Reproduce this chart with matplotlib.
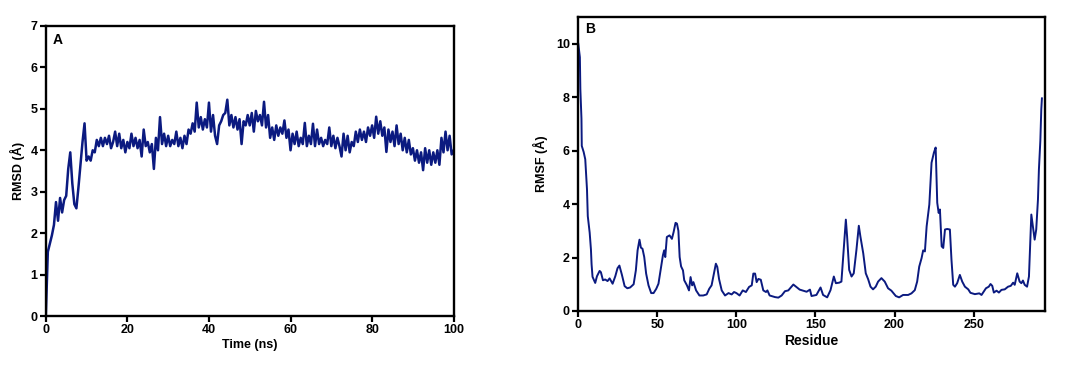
import numpy as np
import matplotlib
matplotlib.use("Agg")
import matplotlib.pyplot as plt

plt.rcParams['font.family'] = ['Liberation Sans', 'DejaVu Sans']
plt.rcParams['font.weight'] = 'bold'

# RMSD trace, read every 0.5 ns off the picture (0 .. 100 ns)
time_ns = np.arange(0, 100.5, 0.5)
rmsd = [
    0.0, 1.55, 1.75, 1.95, 2.2, 2.75, 2.3, 2.85, 2.5, 2.8,
    2.9, 3.55, 3.95, 3.2, 2.7, 2.6, 3.1, 3.65, 4.2, 4.65,
    3.75, 3.85, 3.75, 4.0, 3.95, 4.25, 4.1, 4.3, 4.1, 4.3,
    4.15, 4.35, 4.05, 4.2, 4.45, 4.1, 4.4, 4.05, 4.25, 3.95,
    4.2, 4.05, 4.4, 4.1, 4.3, 4.05, 4.25, 3.85, 4.5, 4.1,
    4.2, 3.95, 4.15, 3.55, 4.3, 4.0, 4.8, 4.15, 4.4, 4.1,
    4.35, 4.1, 4.25, 4.15, 4.45, 4.1, 4.3, 4.05, 4.35, 4.15,
    4.5, 4.4, 4.65, 4.45, 5.15, 4.55, 4.8, 4.5, 4.75, 4.55,
    5.15, 4.45, 4.85, 4.35, 4.15, 4.6, 4.7, 4.85, 4.9, 5.22,
    4.6, 4.85, 4.55, 4.8, 4.5, 4.75, 4.15, 4.7, 4.6, 4.85,
    4.6, 4.9, 4.45, 4.95, 4.7, 4.85, 4.6, 5.17, 4.55, 4.85,
    4.3, 4.55, 4.25, 4.6, 4.35, 4.55, 4.4, 4.72, 4.3, 4.5,
    4.0, 4.4, 4.15, 4.45, 4.1, 4.3, 4.15, 4.66, 4.1, 4.35,
    4.15, 4.64, 4.1, 4.5, 4.15, 4.3, 4.1, 4.25, 4.15, 4.55,
    4.1, 4.35, 4.05, 4.3, 4.1, 3.85, 4.4, 4.0, 4.35, 3.95,
    4.2, 4.1, 4.45, 4.2, 4.5, 4.25, 4.45, 4.2, 4.55, 4.35,
    4.6, 4.3, 4.81, 4.4, 4.7, 4.35, 4.55, 3.96, 4.5, 4.2,
    4.45, 4.1, 4.6, 4.15, 4.4, 4.0, 4.3, 3.95, 4.25, 3.9,
    4.05, 3.75, 4.0, 3.7, 3.95, 3.52, 4.05, 3.7, 4.0, 3.65,
    3.95, 3.7, 4.0, 3.65, 4.3, 3.95, 4.45, 4.0, 4.35, 3.9,
    4.0,
]

# RMSF per residue
residue = [
    0, 1, 1.3, 2, 2.2, 3.4, 4.4, 5.5, 6, 7.2, 8, 8.4, 9, 10.7, 11.8,
    13.5, 14.3, 15.6, 17, 18.5, 19.8, 21.7, 23.4, 24.8, 26, 27.6, 29.3,
    31, 32.8, 35, 36.4, 37.5, 38.7, 39.6, 40.6, 41.7, 42.9, 44.4, 46.1,
    47.6, 49.3, 50.7, 52.2, 53.5, 54.3, 55, 56, 57.7, 59.2, 60.3, 61.5,
    62.4, 63.3, 64.1, 65, 66.2, 67, 68.7, 70, 71, 72, 72.8, 74.5, 76.6,
    79, 81.2, 82.8, 84.3, 85.8, 87, 87.9, 89, 90.7, 92.8, 95, 97, 98.5,
    100, 102, 104, 106, 108, 109.7, 110.7, 111.8, 112.8, 113.9, 115.4,
    117, 118.7, 119.6, 121, 124.4, 126.5, 128.6, 130.7, 132.8, 136, 140,
    144.4, 146.5, 147.5, 150.6, 153.2, 154.8, 157.4, 159.5, 161.6, 162.9,
    165, 166.4, 167.9, 169.2, 170, 171.3, 172.8, 174.2, 175.9, 177.4,
    178.4, 180.2, 181.8, 183.3, 184.8, 186.4, 188.1, 189.6, 191.7, 193.8,
    195.9, 198, 200.8, 202.9, 205.4, 208.6, 210.7, 212.8, 214.3, 215.6,
    217.1, 218.1, 219.2, 220.3, 222, 223.4, 224.9, 226, 227, 227.9, 228.7,
    229.8, 230.8, 231.9, 233.3, 235, 236, 237.1, 238.2, 239.6, 241.3,
    242.8, 244.5, 246.6, 248, 250.8, 253.6, 255, 257.8, 259.6, 260.7,
    261.8, 262.8, 264.5, 266, 267.6, 269.7, 271.8, 273.5, 275, 276, 277.6,
    279.1, 280.2, 281.2, 282.3, 283.8, 285, 285.8, 286.5, 287.5, 288.6,
    289.6, 290.7, 291.3, 292.2, 292.8, 293.2,
]
rmsf = [
    10.0, 9.5, 8.3, 7.2, 6.18, 5.95, 5.68, 4.55, 3.55, 2.93, 2.3, 1.75,
    1.28, 1.05, 1.3, 1.5, 1.45, 1.15, 1.18, 1.12, 1.22, 1.02, 1.3, 1.6,
    1.7, 1.35, 0.93, 0.85, 0.88, 1.0, 1.52, 2.27, 2.67, 2.37, 2.33, 2.02,
    1.4, 0.96, 0.67, 0.67, 0.83, 1.02, 1.58, 2.08, 2.27, 2.02, 2.77, 2.83,
    2.7, 2.96, 3.3, 3.27, 3.0, 2.02, 1.67, 1.52, 1.15, 0.96, 0.77, 1.27,
    0.96, 1.08, 0.77, 0.58, 0.58, 0.62, 0.83, 0.96, 1.4, 1.77, 1.65, 1.2,
    0.77, 0.58, 0.67, 0.62, 0.71, 0.67, 0.58, 0.77, 0.71, 0.9, 0.96, 1.4,
    1.4, 1.08, 1.2, 1.17, 0.77, 0.71, 0.77, 0.58, 0.52, 0.5, 0.58, 0.74,
    0.77, 0.99, 0.8, 0.72, 0.8, 0.56, 0.6, 0.88, 0.6, 0.51, 0.78, 1.29,
    1.04, 1.06, 1.1, 2.35, 3.42, 2.79, 1.54, 1.29, 1.41, 2.29, 3.19, 2.79,
    2.16, 1.41, 1.19, 0.91, 0.81, 0.91, 1.1, 1.23, 1.1, 0.85, 0.76, 0.56,
    0.51, 0.6, 0.6, 0.66, 0.78, 1.1, 1.66, 1.98, 2.27, 2.23, 3.17, 3.99,
    5.55, 5.93, 6.12, 4.05, 3.67, 3.8, 2.42, 2.36, 3.05, 3.07, 3.05, 1.92,
    0.98, 0.91, 1.04, 1.35, 1.1, 0.91, 0.81, 0.68, 0.63, 0.66, 0.6, 0.85,
    0.91, 1.01, 0.94, 0.69, 0.76, 0.69, 0.79, 0.81, 0.91, 0.94, 1.06,
    0.98, 1.41, 1.1, 1.04, 1.14, 0.98, 0.91, 1.29, 2.54, 3.61, 3.17, 2.67,
    3.05, 4.18, 5.3, 6.37, 7.55, 7.96,
]

navy = '#0b1a80'

fig = plt.figure(figsize=(10.65, 3.65), dpi=100)
ax1 = fig.add_axes([0.043, 0.134, 0.383, 0.795])
ax2 = fig.add_axes([0.543, 0.148, 0.438, 0.805])


def style(ax):
    for s in ax.spines.values():
        s.set_linewidth(1.7)
    ax.tick_params(direction='out', length=4, width=1.6, labelsize=9, pad=2)
    for lab in ax.get_xticklabels() + ax.get_yticklabels():
        lab.set_fontweight('bold')


# Panel A: RMSD
ax1.plot(time_ns, rmsd, color=navy, lw=1.8)
ax1.set_xlim(0, 100)
ax1.set_ylim(0, 7)
ax1.set_xticks(range(0, 101, 20))
ax1.set_yticks(range(0, 8))
ax1.set_xlabel('Time (ns)', fontsize=9, fontweight='bold', labelpad=2)
ax1.set_ylabel('RMSD (Å)', fontsize=9, fontweight='bold', labelpad=4)
ax1.text(0.017, 0.975, 'A', transform=ax1.transAxes, fontsize=10,
         fontweight='bold', va='top', ha='left')
style(ax1)

# Panel B: RMSF
ax2.plot(residue, rmsf, color=navy, lw=1.4)
ax2.set_xlim(0, 295)
ax2.set_ylim(0, 11)
ax2.set_xticks(range(0, 251, 50))
ax2.set_yticks(range(0, 11, 2))
ax2.set_xlabel('Residue', fontsize=10, fontweight='bold', labelpad=2)
ax2.set_ylabel('RMSF (Å)', fontsize=9, fontweight='bold', labelpad=6)
ax2.text(0.015, 0.985, 'B', transform=ax2.transAxes, fontsize=10,
         fontweight='bold', va='top', ha='left')
style(ax2)

fig.savefig('out.png', dpi=100)
